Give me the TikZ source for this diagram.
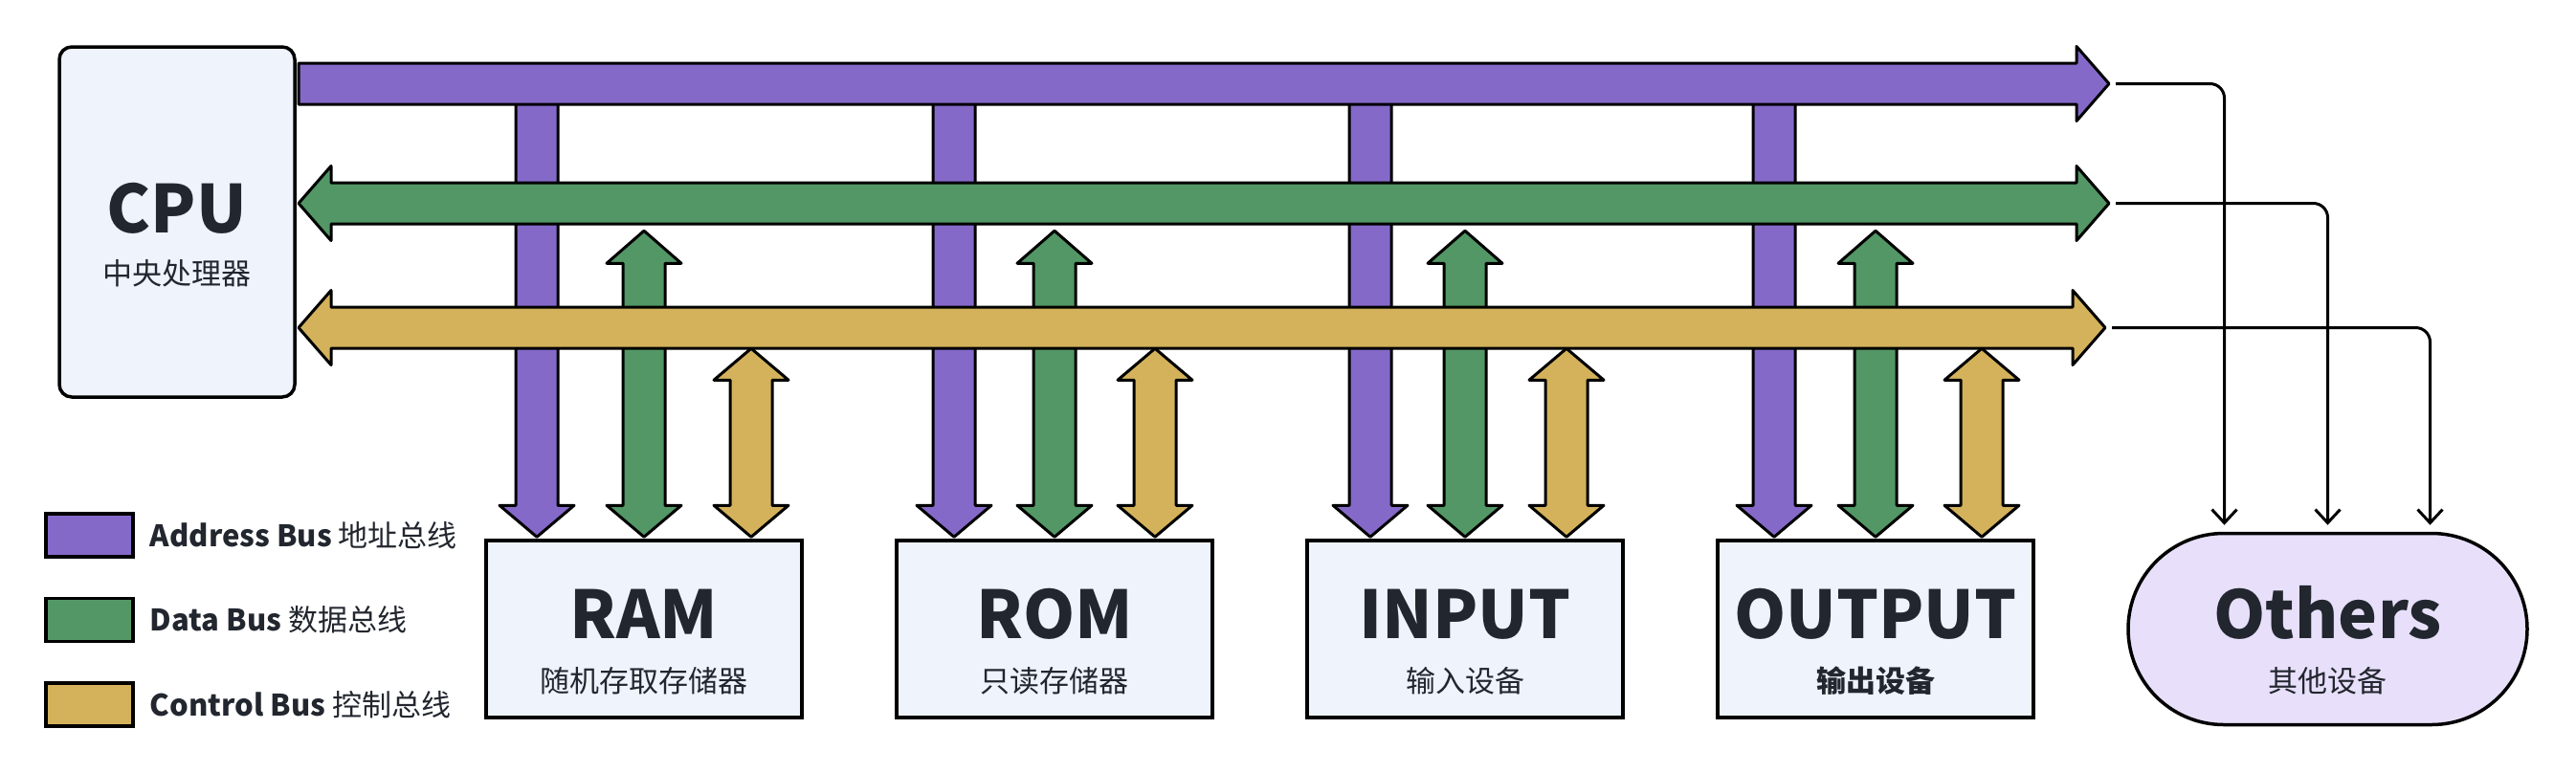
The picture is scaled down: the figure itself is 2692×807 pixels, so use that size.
\documentclass[tikz,border=0pt]{standalone}
\usepackage{fontspec}
\setmainfont{Noto Sans CJK SC}
\usepackage{tikz}
\usetikzlibrary{arrows.meta, positioning, calc}
\definecolor{addrbus}{HTML}{8569C9}
\definecolor{databus}{HTML}{529765}
\definecolor{ctrlbus}{HTML}{D3B25B}
\definecolor{unitfill}{HTML}{EEF3FC}
\definecolor{otherfill}{HTML}{E8E0FB}
\definecolor{ink}{HTML}{22262E}
\tikzset{
    unitbox/.style={rectangle, draw=black, line width=3.5pt, fill=unitfill,
        minimum width=330pt, minimum height=185pt, inner sep=0pt},
    cpubox/.style={unitbox, rounded corners=13pt, minimum width=246pt, minimum height=366pt},
    otherbox/.style={unitbox, fill=otherfill, rounded corners=100pt,
        minimum width=417pt, minimum height=200pt},
    titletext/.style={anchor=base, text=ink, inner sep=0pt,
        font=\fontsize{69}{80}\selectfont\bfseries},
    subtext/.style={anchor=base, text=ink, inner sep=0pt, font=\fontsize{31}{36}\selectfont},
    busbar/.style={draw=black, line width=3pt, line join=round},
    % Legend Styles
    swatchbox/.style={rectangle, draw=black, line width=3.5pt,
        minimum width=91pt, minimum height=45pt, inner sep=0pt},
    legendtext/.style={anchor=west, text=ink, inner sep=0pt, font=\fontsize{31}{36}\selectfont},
    linkline/.style={draw=black, line width=3pt, rounded corners=15pt, shorten >=7pt,
        -{Straight Barb[length=14pt, width=26pt]}}
}
\begin{document}
\begin{tikzpicture}[x=1pt, y=-1pt]
    \useasboundingbox (0,0) rectangle (2692,807);

    \node[cpubox] (cpu) at (185,232) {};
    \node[unitbox] (ram) at (673,657.5) {};
    \node[unitbox, right=95.5pt of ram] (rom) {};
    \node[unitbox, right=95.5pt of rom] (input) {};
    \node[unitbox, right=95.5pt of input] (output) {};
    \node[otherbox, right=95.5pt of output] (others) {};

    \node[titletext] (cpu-t) at ([yshift=-11pt]cpu.center) {CPU};
    \node[subtext] (cpu-s) at ([yshift=-65pt]cpu.center) {中央处理器};
    \foreach \u/\t/\s in {ram/RAM/随机存取存储器, rom/ROM/只读存储器, input/INPUT/输入设备,
        output/OUTPUT/{\bfseries 输出设备}, others/Others/其他设备} {
        \node[titletext] (\u-t) at ([yshift=-10pt]\u.center) {\t};
        \node[subtext] (\u-s) at ([yshift=-66pt]\u.center) {\s};
    }

    % drops to each unit
    \foreach \u/\pl in {ram/112, rom/105, input/99, output/106} {
        \begin{scope}[shift={(\u.north)}]
            \path[busbar, fill=addrbus, xshift=-\pl pt] (-22,-465) -- (-22,-35) -- (-39,-35)
                -- (0,-2) -- (39,-35) -- (22,-35) -- (22,-465) -- cycle;
            \path[busbar, fill=databus] (0,-322) -- (39,-288) -- (22,-288) -- (22,-35) -- (39,-35)
                -- (0,-2) -- (-39,-35) -- (-22,-35) -- (-22,-288) -- (-39,-288) -- cycle;
        \end{scope}
    }

    % system buses
    \path[busbar, fill=addrbus] (312,66) -- (2170,66) -- (2170,48.5) -- (2204,87.5)
        -- (2170,126.5) -- (2170,109) -- (312,109) -- cycle;
    \path[busbar, fill=databus] (312,212.5) -- (346,173.5) -- (346,191) -- (2170,191)
        -- (2170,173.5) -- (2204,212.5) -- (2170,251.5) -- (2170,234) -- (346,234)
        -- (346,251.5) -- cycle;
    \path[busbar, fill=ctrlbus] (312,342.5) -- (346,303.5) -- (346,321) -- (2166,321)
        -- (2166,303.5) -- (2200,342.5) -- (2166,381.5) -- (2166,364) -- (346,364)
        -- (346,381.5) -- cycle;

    \foreach \u/\cr in {ram/112, rom/105, input/106, output/111} {
        \begin{scope}[shift={(\u.north)}]
            \path[busbar, fill=ctrlbus, xshift=\cr pt] (0,-199) -- (39,-166) -- (22,-166) -- (22,-35)
                -- (39,-35) -- (0,-2) -- (-39,-35) -- (-22,-35) -- (-22,-166) -- (-39,-166) -- cycle;
        \end{scope}
    }

    \coordinate (addr-end) at (2211,87.5);
    \coordinate (data-end) at (2211,212.5);
    \coordinate (ctrl-end) at (2207,342.5);
    \draw[linkline] (addr-end) -| ([xshift=-108pt]others.north);
    \draw[linkline] (data-end) -| (others.north);
    \draw[linkline] (ctrl-end) -| ([xshift=107pt]others.north);

    \node[swatchbox, fill=addrbus] (addr-key) at (93.5,559.5) {};
    \node[swatchbox, fill=databus, below=40pt of addr-key] (data-key) {};
    \node[swatchbox, fill=ctrlbus, below=40pt of data-key] (ctrl-key) {};
    \node[legendtext, right=16pt of addr-key] (addr-lbl) {\textbf{Address Bus} 地址总线};
    \node[legendtext, right=16pt of data-key] (data-lbl) {\textbf{Data Bus} 数据总线};
    \node[legendtext, right=16pt of ctrl-key] (ctrl-lbl) {\textbf{Control Bus} 控制总线};
\end{tikzpicture}
\end{document}
